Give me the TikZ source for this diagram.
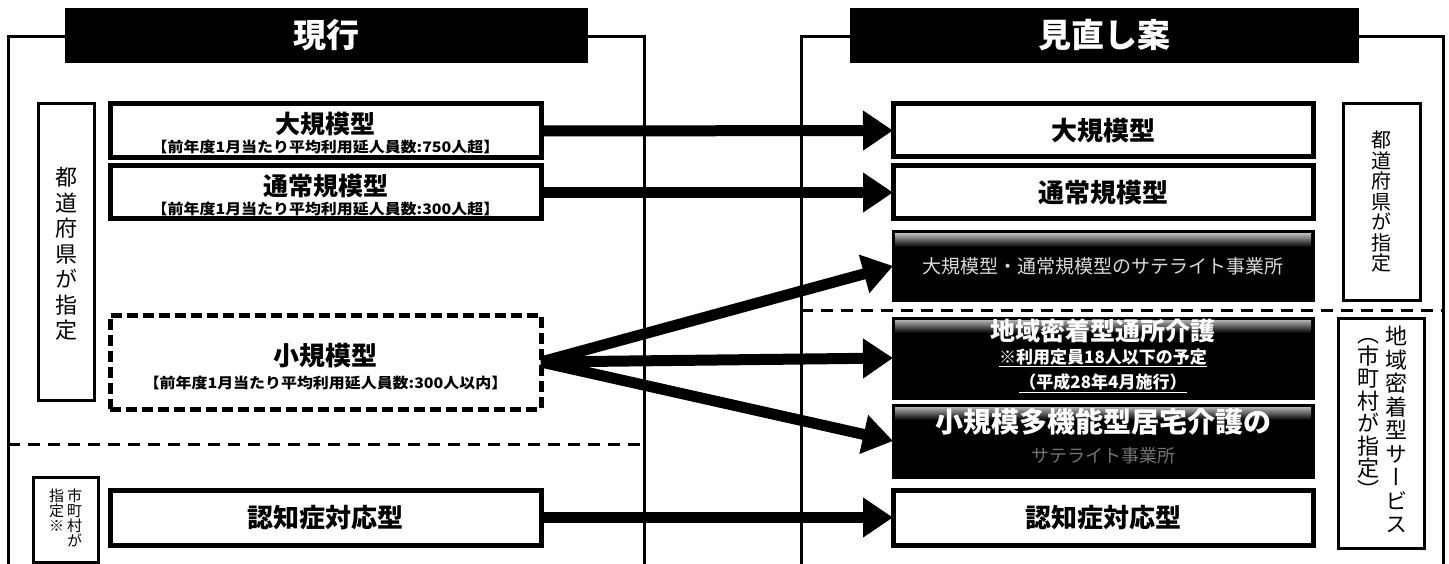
\documentclass[tikz,border=0pt]{standalone}
\usepackage{fontspec}
\newfontfamily\jp{Noto Sans CJK JP}
\newfontfamily\jpv{Noto Sans CJK JP}[RawFeature=+vert]
\usetikzlibrary{arrows.meta}
\newcommand{\fs}[1]{\fontsize{#1}{#1}\selectfont}
\newcommand{\wide}[1]{\scalebox{1.1}[1]{#1}}
\begin{document}
\begin{tikzpicture}[x=1pt,y=-1pt,
  frameline/.style={line width=3pt},
  titlebox/.style={fill=black,draw=black,text=white,font=\jp\bfseries\fs{33},minimum height=54pt,inner sep=0pt,outer sep=0pt},
  wbox/.style={draw=black,fill=white,line width=5pt,minimum width=431pt,inner sep=0pt,outer sep=0pt,align=center,font=\jp\bfseries},
  rbox/.style={wbox,minimum width=420pt},
  bbox/.style={draw=black,fill=black,line width=3pt,minimum width=420pt,inner sep=0pt,outer sep=0pt},
  btext/.style={text=white,font=\jp\bfseries,align=center,inner sep=0pt},
  ltext/.style={font=\jp\bfseries,inner sep=0pt},
  vbox/.style={draw=black,fill=white,line width=3pt,inner sep=0pt,outer sep=0pt},
  vtext/.style={font=\jpv,align=center,inner sep=0pt},
  bigarrow/.style={line width=11pt,-{Triangle[length=30pt,width=38pt]}},
  sepline/.style={line width=3pt,dash pattern=on 12pt off 8pt},
]
\useasboundingbox (0,0) rectangle (1449,564);
\fill[white] (0,0) rectangle (1449,564);

% frames
\coordinate (lf1) at (8,575);
\coordinate (lf2) at (8,37);
\coordinate (lf3) at (644,37);
\coordinate (lf4) at (644,575);
\draw[frameline] (lf1) -- (lf2) -- (lf3) -- (lf4);
\coordinate (rf1) at (801,575);
\coordinate (rf2) at (801,37);
\coordinate (rf3) at (1443,37);
\coordinate (rf4) at (1443,575);
\draw[frameline] (rf1) -- (rf2) -- (rf3) -- (rf4);

% separators
\coordinate (ls1) at (8,444);
\coordinate (ls2) at (644,444);
\draw[sepline] (ls1) -- (ls2);
\coordinate (rs1) at (801,310);
\coordinate (rs2) at (1443,310);
\draw[sepline] (rs1) -- (rs2);

% titles
\node[titlebox,minimum width=522pt] (t1) at (326,35) {現行};
\node[titlebox,minimum width=508pt] (t2) at (1104,35) {見直し案};

% left vertical label boxes
\node[vbox,minimum width=56pt,minimum height=296pt] (lv1) at (66,252) {};
\node[vtext,font=\jpv\fs{22}] (lv1t) at ([yshift=-2pt]lv1.center) {都\\[3.5pt]道\\[3.5pt]府\\[3.5pt]県\\[3.5pt]が\\[3.5pt]指\\[3.5pt]定};
\node[vbox,minimum width=65pt,minimum height=85pt] (lv2) at (65.5,519.5) {};
\node[vtext,font=\jpv\fs{15},anchor=north] (lv2a) at ([xshift=9pt,yshift=-12pt]lv2.north) {市\\町\\村\\が};
\node[vtext,font=\jpv\fs{15},anchor=north] (lv2b) at ([xshift=-9pt,yshift=-12pt]lv2.north) {指\\定\\※};

% left boxes
\node[wbox,minimum height=54pt] (l1) at (325.5,131) {};
\node[ltext,font=\jp\bfseries\fs{25}] (l1a) at (325.5,124.5) {大規模型};
\node[ltext,font=\jp\bfseries\fs{14.5}] (l1b) at (325.5,147.5) {\wide{【前年度1月当たり平均利用延人員数:750人超】}};
\node[wbox,minimum height=53pt] (l2) at (325.5,192.5) {};
\node[ltext,font=\jp\bfseries\fs{25}] (l2a) at (325.5,186) {通常規模型};
\node[ltext,font=\jp\bfseries\fs{14.5}] (l2b) at (325.5,209) {\wide{【前年度1月当たり平均利用延人員数:300人超】}};
\node[wbox,minimum height=94pt,dash pattern=on 11pt off 5pt] (l3) at (325.5,362) {};
\node[ltext,font=\jp\bfseries\fs{26}] (l3a) at (325.5,356) {小規模型};
\node[ltext,font=\jp\bfseries\fs{14.5}] (l3b) at (325.5,383) {\wide{【前年度1月当たり平均利用延人員数:300人以内】}};
\node[wbox,minimum height=55pt] (l4) at (325.5,517.5) {\fs{26}認知症対応型};

% right boxes
\node[rbox,minimum height=53pt] (r1) at (1103,130.5) {\fs{26}大規模型};
\node[rbox,minimum height=53pt] (r2) at (1103,192.5) {\fs{26}通常規模型};
\node[bbox,minimum height=68pt] (r3) at (1103,266) {};
\node[bbox,minimum height=80pt] (r4) at (1103,358) {};
\node[bbox,minimum height=72pt] (r5) at (1103,441) {};
\node[rbox,minimum height=55pt] (r6) at (1103,517.5) {\fs{26}認知症対応型};

\foreach \b in {r3,r4,r5}{
  \shade[top color=black!30,bottom color=black] ([xshift=2pt,yshift=-2pt]\b.north west) rectangle ([xshift=-2pt,yshift=-15pt]\b.north east);
}
\node[btext,font=\jp\fs{19},text=white!85!black] (r3t) at (1103,266) {大規模型・通常規模型のサテライト事業所};
\node[btext,font=\jp\bfseries\fs{25}] (r4a) at (1103,331) {地域密着型通所介護};
\node[btext,font=\jp\bfseries\fs{17}] (r4b) at (1103,358) {\underline{※利用定員18人以下の予定}};
\node[btext,font=\jp\bfseries\fs{17}] (r4c) at (1103,383) {\underline{（平成28年4月施行）}};
\node[btext,font=\jp\bfseries\fs{28}] (r5a) at (1103,422) {小規模多機能型居宅介護の};
\node[btext,font=\jp\fs{18},text=black!55] (r5b) at (1103,456) {サテライト事業所};

% right vertical label boxes
\node[vbox,minimum width=77pt,minimum height=196pt] (rv1) at (1381.5,202) {};
\node[vtext,font=\jpv\fs{20}] (rv1t) at (rv1.center) {都\\[0.5pt]道\\[0.5pt]府\\[0.5pt]県\\[0.5pt]が\\[0.5pt]指\\[0.5pt]定};
\node[vbox,minimum width=86pt,minimum height=230pt] (rv2) at (1381,433) {};
\node[vtext,font=\jpv\fs{22},anchor=north] (rv2a) at ([xshift=15pt,yshift=-8pt]rv2.north) {地\\[1.5pt]域\\[1.5pt]密\\[1.5pt]着\\[1.5pt]型\\[1.5pt]サ\\[1.5pt]ー\\[1.5pt]ビ\\[1.5pt]ス};
\node[vtext,font=\jpv\fs{22},anchor=north] (rv2b) at ([xshift=-13pt,yshift=-20pt]rv2.north) {（\\市\\[0.5pt]町\\[0.5pt]村\\[0.5pt]が\\[0.5pt]指\\[0.5pt]定\\）};

% arrows
\draw[bigarrow] (l1.east) -- (r1.west);
\draw[bigarrow] (l2.east) -- (r2.west);
\draw[bigarrow] (l3.east) -- (r3.west);
\draw[bigarrow] (l3.east) -- (r4.west);
\draw[bigarrow] (l3.east) -- (r5.west);
\draw[bigarrow] (l4.east) -- (r6.west);
\end{tikzpicture}
\end{document}
